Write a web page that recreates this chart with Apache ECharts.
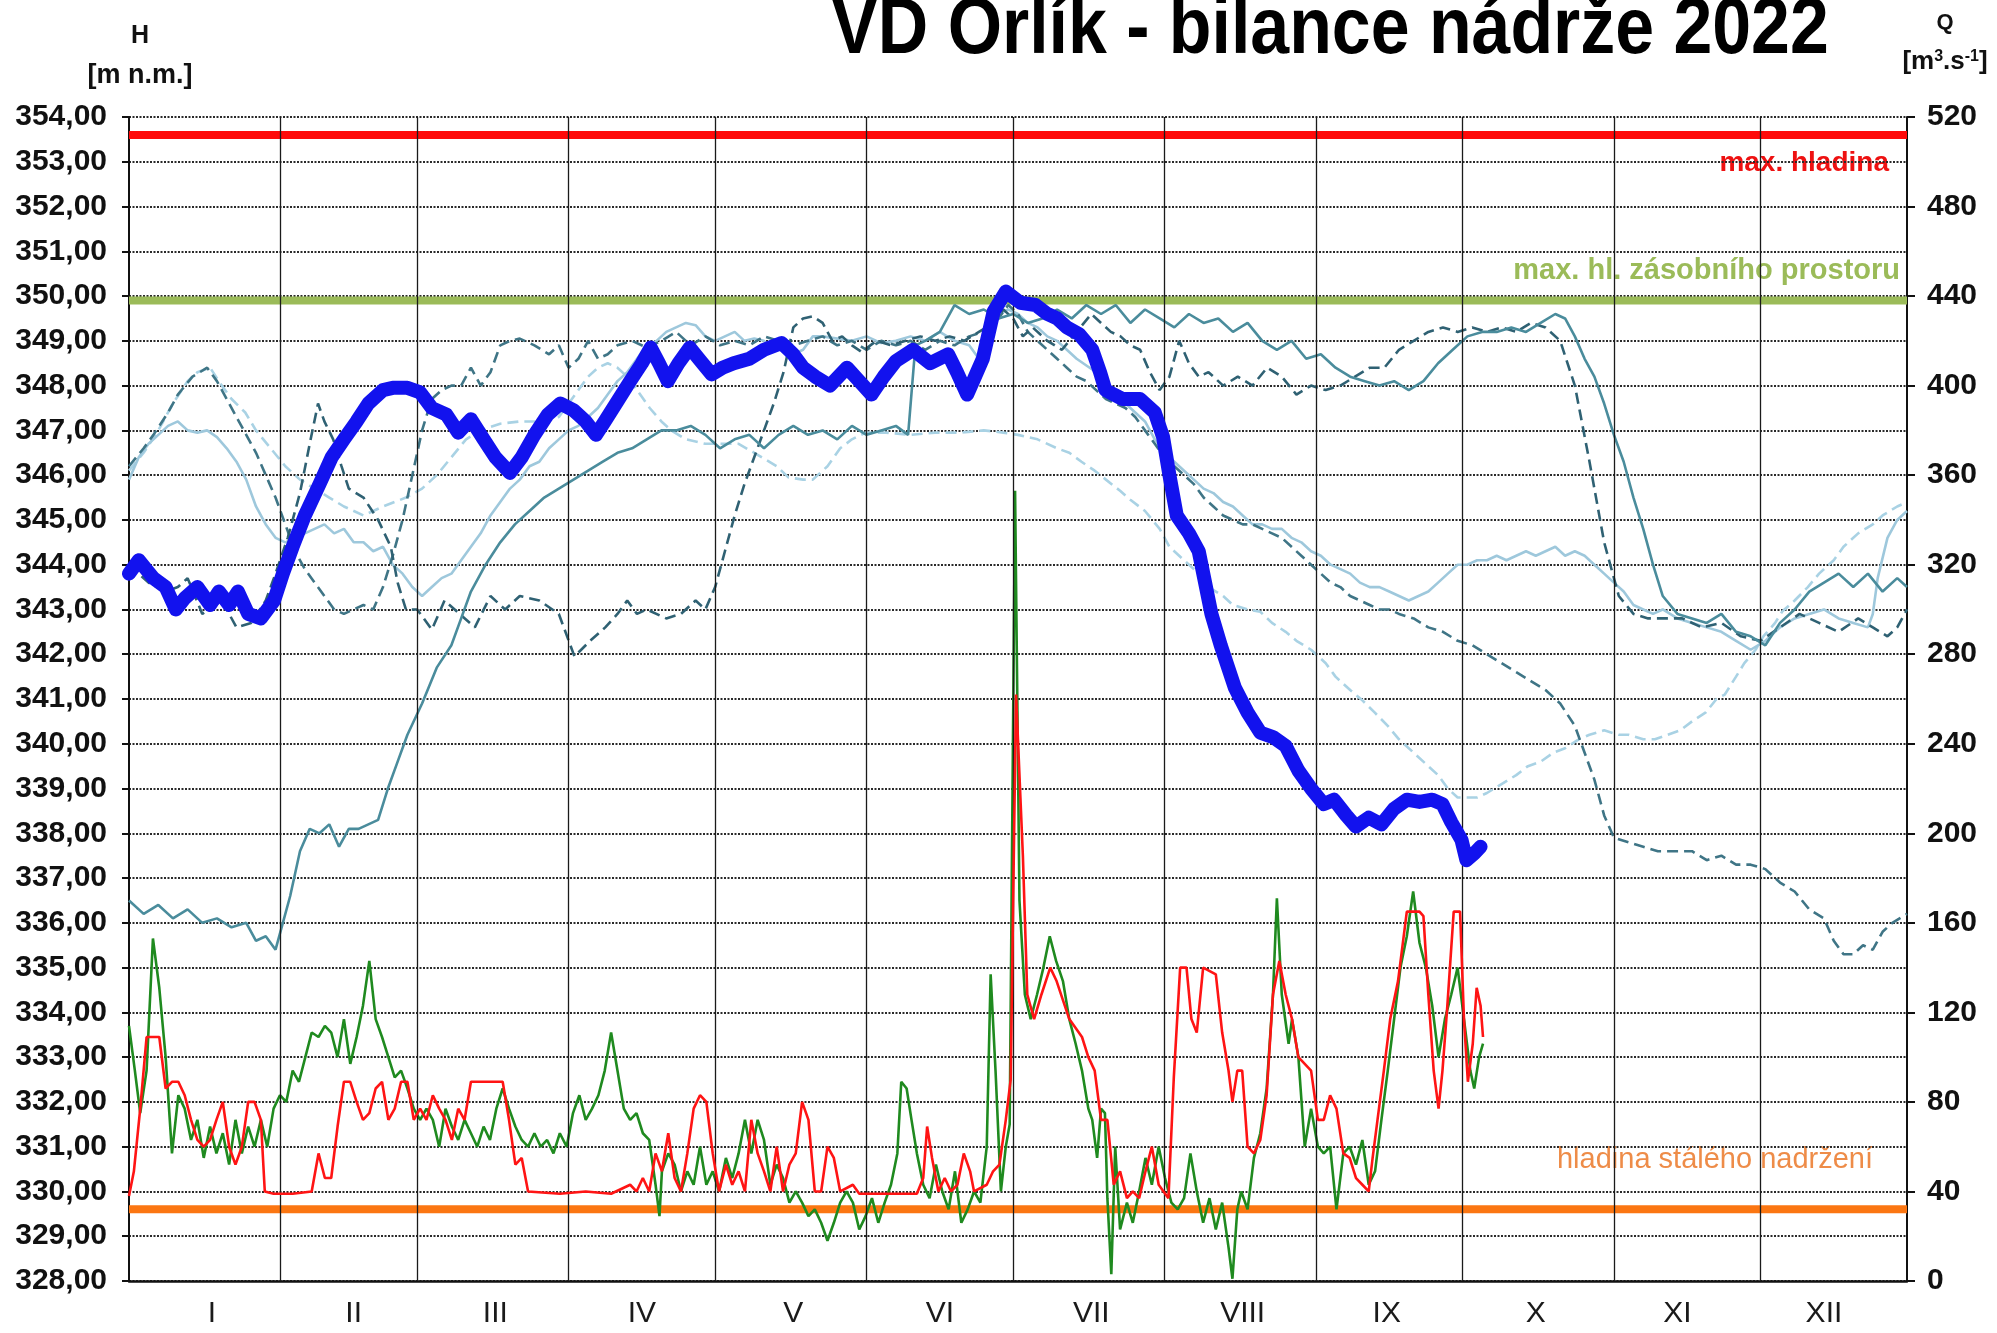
<!DOCTYPE html>
<html><head><meta charset="utf-8">
<script src="https://cdn.jsdelivr.net/npm/echarts@6/dist/echarts.min.js"></script>
<style>html,body{margin:0;padding:0;background:#fff}#c{width:1997px;height:1333px}</style>
</head><body><div id="c"></div><script>
// ---------- data ----------
const title = 'VD Orlík - bilance nádrže 2022';
const months = ['I','II','III','IV','V','VI','VII','VIII','IX','X','XI','XII'];
const monthStarts = [31,59,90,120,151,181,212,243,273,304,334];
const monthLabelPos = [17,46,75,105,136,166,197,228,257.5,288,317,347];
const maxLevel = 353.6;      // max. hladina
const storageLevel = 349.9;  // max. hl. zásobního prostoru
const permLevel = 329.6;     // hladina stálého nadržení

// 2022 level [day, m n.m.]
const h2022 = [[0,343.8],[2,344.1],[5,343.7],[7.5,343.5],[9.6,343.0],[11.4,343.25],[14,343.5],[16.6,343.1],[18.4,343.4],[20.5,343.1],[22.3,343.4],[24.4,342.9],[27,342.8],[29.7,343.2],[31.5,343.8],[33.5,344.4],[36,345.1],[39,345.8],[41.5,346.4],[44,346.8],[46.6,347.2],[49,347.6],[52,347.9],[54,347.95],[57,347.95],[59.6,347.85],[62,347.5],[65,347.35],[67.4,346.95],[70,347.25],[72.6,346.8],[75,346.4],[78,346.05],[80.4,346.4],[83,346.9],[85.7,347.35],[88.3,347.6],[91,347.45],[93.5,347.2],[95.6,346.9],[97.4,347.2],[100,347.65],[102.6,348.1],[105,348.5],[106.8,348.85],[108.5,348.5],[110.3,348.1],[112.5,348.5],[114.8,348.85],[117,348.55],[119.3,348.25],[121.5,348.4],[123.8,348.5],[127,348.6],[130,348.8],[133.6,348.95],[136,348.7],[138,348.4],[140.5,348.2],[143.5,348.0],[147,348.4],[149.5,348.1],[152,347.8],[154.5,348.2],[157,348.55],[160.5,348.8],[164,348.5],[167.7,348.7],[169.5,348.3],[171.6,347.8],[173.2,348.2],[174.8,348.6],[177,349.65],[179.5,350.1],[182.5,349.85],[185.6,349.8],[188,349.6],[190,349.5],[192,349.3],[194.5,349.15],[197.2,348.8],[198.8,348.3],[199.9,347.9],[203.4,347.7],[207,347.7],[210,347.4],[211.7,346.85],[213,346.0],[214.5,345.1],[217,344.7],[219,344.3],[221.6,342.9],[223.5,342.2],[226.4,341.25],[229,340.7],[231.6,340.25],[234.2,340.15],[236.8,339.95],[239.4,339.4],[242,339.0],[244.6,338.65],[246.7,338.75],[249.2,338.4],[251.2,338.15],[253.8,338.35],[256.4,338.2],[259,338.55],[261.6,338.75],[264.2,338.7],[266.8,338.75],[268.9,338.65],[270.7,338.25],[272.8,337.85],[273.8,337.4],[275.4,337.55],[276.7,337.7]];

// historical years (levels)
const histA = [[0,336.5],[3,336.2],[6,336.4],[9,336.1],[12,336.3],[15,336.0],[18,336.1],[21,335.9],[24,336.0],[26,335.6],[28,335.7],[30,335.4],[31.5,336.0],[33,336.6],[35,337.6],[37,338.1],[39,338.0],[41,338.2],[43,337.7],[45,338.1],[47,338.1],[49,338.2],[51,338.3],[53,339.0],[55,339.6],[57,340.2],[60,340.9],[63,341.7],[66,342.2],[68,342.8],[70,343.4],[73,344.0],[76,344.5],[79,344.9],[82,345.2],[85,345.5],[88,345.7],[91,345.9],[94,346.1],[97,346.3],[100,346.5],[103,346.6],[106,346.8],[109,347.0],[112,347.0],[115,347.1],[118,346.9],[121,346.6],[124,346.8],[127,346.9],[130,346.6],[133,346.9],[136,347.1],[139,346.9],[142,347.0],[145,346.8],[148,347.1],[151,346.9],[154,347.0],[157,347.1],[159.5,346.9],[161,348.9],[163,349.0],[166,349.2],[169,349.8],[172,349.6],[175,349.7],[178,349.5],[181,349.6],[184,349.4],[187,349.5],[190,349.7],[193,349.5],[196,349.8],[199,349.6],[202,349.8],[205,349.4],[208,349.7],[211,349.5],[214,349.3],[217,349.6],[220,349.4],[223,349.5],[226,349.2],[229,349.4],[232,349.0],[235,348.8],[238,349.0],[241,348.6],[244,348.7],[247,348.4],[250,348.2],[253,348.1],[256,348.0],[259,348.1],[262,347.9],[265,348.1],[268,348.5],[271,348.8],[274,349.1],[277,349.2],[280,349.2],[283,349.3],[286,349.2],[289,349.4],[292,349.6],[294,349.5],[296,349.1],[298,348.6],[300,348.2],[302,347.6],[304,346.9],[306,346.3],[308,345.5],[310,344.8],[312,344.0],[314,343.3],[317,342.9],[320,342.8],[323,342.7],[326,342.9],[329,342.5],[332,342.4],[335,342.2],[338,342.7],[341,343.0],[344,343.4],[347,343.6],[350,343.8],[353,343.5],[356,343.8],[359,343.4],[362,343.7],[364,343.5]];
const histB = [[0,343.8],[1,343.9],[4,343.6],[7.4,343.4],[10,343.5],[12,343.7],[15,342.9],[19,343.2],[22,342.6],[25,342.7],[28,343.2],[30,343.8],[32.5,344.6],[35,345.6],[37,346.7],[38.7,347.6],[40,347.2],[41.8,346.8],[43.5,346.2],[45,345.7],[48,345.5],[51,345.0],[53.6,344.4],[55,343.6],[56.7,343.0],[59,343.0],[62,342.55],[64.6,343.2],[67.7,342.9],[70.8,342.6],[74,343.3],[77,343.0],[80,343.3],[84,343.2],[88,342.9],[91.2,341.95],[94.4,342.3],[97.5,342.6],[100,342.9],[102,343.2],[104,342.9],[106,343.0],[110,342.8],[113,342.9],[116,343.2],[118,343.0],[120,343.5],[122,344.3],[124,345.1],[126,345.8],[128,346.4],[130,347.0],[132,347.6],[134,348.3],[136,349.3],[138,349.5],[140,349.55],[142,349.4],[144,349.0],[146,349.1],[148,348.9],[150,348.75],[153,349.0],[156,348.9],[159,349.0],[162,349.1],[165,349.0],[168,349.1],[171,349.0],[174,349.2],[177,349.4],[179,349.7],[181,349.5],[183,349.1],[185,349.3],[188,349.0],[191,348.8],[194,349.2],[197,349.6],[199,349.4],[201,349.2],[203,349.1],[205,348.9],[207,348.8],[209,348.3],[211,347.9],[213,348.2],[215,349.0],[217,348.5],[219,348.2],[221,348.3],[224,348.0],[227,348.2],[230,348.0],[233,348.4],[236,348.2],[239,347.8],[242,348.0],[245,347.9],[248,348.0],[251,348.2],[254,348.4],[257,348.4],[260,348.8],[263,349.0],[266,349.2],[269,349.3],[272,349.2],[275,349.3],[278,349.2],[281,349.3],[284,349.2],[287,349.4],[290,349.3],[293,349.0],[296,348.0],[299,346.3],[302,344.5],[305,343.3],[308,342.9],[311,342.8],[314,342.8],[318,342.8],[322,342.6],[326,342.7],[330,342.4],[334,342.3],[338,342.6],[342,342.9],[346,342.7],[350,342.5],[354,342.8],[357,342.6],[360,342.4],[362,342.6],[364,343.0]];
const histC = [[0,345.9],[2,346.4],[4,346.7],[6,346.9],[8,347.1],[10,347.2],[12,347.0],[14,346.95],[16,347.0],[18,346.85],[20,346.6],[22,346.3],[24,345.9],[26,345.3],[28,344.9],[30,344.6],[32,344.5],[34,344.6],[36,344.7],[38,344.8],[40,344.9],[42,344.7],[44,344.8],[46,344.5],[48,344.5],[50,344.3],[52,344.4],[54,344.0],[56,343.8],[58,343.5],[60,343.3],[62,343.5],[64,343.7],[66,343.8],[68,344.1],[70,344.4],[72,344.7],[74,345.1],[76,345.4],[78,345.7],[80,345.9],[82,346.2],[84,346.3],[86,346.6],[88,346.8],[90,347.0],[92,347.1],[94,347.3],[96,347.5],[98,347.8],[100,348.1],[102,348.3],[104,348.6],[106,348.9],[108,349.0],[110,349.2],[112,349.3],[114,349.4],[116,349.35],[118,349.1],[120,349.0],[122,349.1],[124,349.2],[126,349.0],[128,349.05],[130,349.0],[132,348.8],[134,348.9],[136,348.7],[138,348.8],[140,349.1],[142,349.1],[145,349.05],[148,349.0],[151,349.1],[154,348.95],[157,349.0],[160,349.1],[163,349.0],[166,349.2],[169,349.0],[172,348.9],[174,348.6],[176,349.0],[178,349.6],[180,349.7],[182,349.6],[184,349.4],[186,349.3],[188,349.1],[190,349.0],[192,348.8],[194,348.6],[196,348.45],[198,348.3],[200,348.0],[202,347.8],[204,347.6],[206,347.4],[208,347.2],[210,346.8],[212,346.5],[214,346.3],[216,346.1],[218,345.9],[220,345.7],[222,345.6],[224,345.4],[226,345.3],[228,345.1],[230,344.9],[232,344.9],[234,344.8],[236,344.8],[238,344.6],[240,344.5],[242,344.3],[244,344.2],[246,344.0],[248,343.9],[250,343.8],[252,343.6],[254,343.5],[256,343.5],[258,343.4],[260,343.3],[262,343.2],[264,343.3],[266,343.4],[268,343.6],[270,343.8],[272,344.0],[274,344.0],[276,344.1],[278,344.1],[280,344.2],[282,344.1],[284,344.2],[286,344.3],[288,344.2],[290,344.3],[292,344.4],[294,344.2],[296,344.3],[298,344.2],[300,344.0],[302,343.8],[304,343.6],[306,343.4],[308,343.1],[310,343.0],[312,342.9],[314,343.0],[317,342.8],[320,342.7],[323,342.6],[326,342.5],[329,342.3],[332,342.1],[335,342.3],[338,342.6],[341,342.8],[344,342.9],[347,343.0],[350,342.8],[353,342.7],[356,342.6],[357,342.9],[358,343.7],[360,344.6],[362,345.0],[364,345.2]];
const histD = [[0,346.1],[3,346.5],[6,347.0],[9,347.6],[12,348.1],[14,348.3],[16.6,348.4],[19,348.0],[21,347.7],[23.8,347.4],[26,347.0],[29,346.6],[32,346.2],[35,345.9],[38,345.7],[41,345.5],[44,345.3],[48,345.1],[52,345.3],[56.7,345.5],[60,345.7],[63,346.0],[66,346.4],[69,346.8],[72,347.0],[76,347.15],[80,347.2],[85,347.2],[88,347.3],[90,347.6],[92,347.9],[94,348.2],[96,348.4],[98,348.5],[100,348.4],[102,348.2],[104,347.9],[106.6,347.5],[109,347.2],[111,347.0],[114,346.8],[118,346.7],[121,346.7],[124.8,346.7],[128,346.5],[132.6,346.2],[135,345.95],[138,345.9],[140,345.9],[143,346.2],[145.6,346.6],[148,346.8],[150.8,346.95],[155,346.95],[160,346.9],[165,346.95],[170,346.95],[175,347.0],[179,346.95],[182,346.9],[186,346.8],[190,346.6],[192.5,346.5],[195,346.3],[197.7,346.1],[200,345.9],[202.9,345.65],[205,345.45],[208,345.2],[211,344.8],[213,344.4],[216,344.1],[219,343.8],[221,343.5],[224,343.3],[226,343.1],[229,343.0],[231.6,342.95],[234,342.7],[236.8,342.5],[239,342.3],[242,342.1],[245,341.8],[247,341.5],[250,341.2],[252.5,340.97],[255,340.7],[257.7,340.4],[260,340.1],[263,339.8],[266,339.5],[268,339.3],[270,339.0],[272,338.8],[276,338.8],[278,338.9],[281,339.1],[284,339.3],[286.4,339.5],[289,339.6],[291.6,339.8],[294,339.9],[296.8,340.1],[299,340.2],[302,340.3],[305,340.2],[307,340.2],[310,340.1],[312.4,340.1],[315,340.2],[317.6,340.3],[320,340.5],[322.8,340.7],[325,341.0],[326.7,341.1],[329,341.5],[330.7,341.8],[333,342.1],[334.6,342.4],[337,342.7],[338.5,342.96],[341,343.2],[343.7,343.5],[346,343.8],[349,344.1],[351,344.4],[354,344.7],[357,344.9],[359,345.1],[362,345.3],[364,345.4]];
const histE = [[0,346.2],[3,346.6],[5,346.9],[8,347.4],[10,347.8],[13,348.2],[16,348.4],[18,348.1],[20,347.7],[22,347.3],[24,346.9],[26,346.5],[28,346.0],[30,345.5],[32,344.9],[34,344.3],[36,343.9],[38,343.6],[40,343.3],[42,343.0],[44,342.9],[46,343.0],[48,343.1],[50,343.0],[52,343.5],[54,344.2],[56,345.0],[58,346.0],[60,347.0],[62,347.7],[64,347.9],[66,348.0],[68,348.0],[70,348.4],[72,348.0],[74,348.3],[76,348.9],[78,349.0],[80,349.05],[83,348.9],[86,348.7],[88,348.9],[90,348.4],[92,348.6],[94,349.0],[96,348.6],[98,348.7],[100,348.9],[103,349.0],[106,348.85],[109,349.0],[112,349.2],[115,348.9],[118,349.1],[121,348.9],[124,349.0],[127,348.9],[130,349.1],[133,349.0],[136,348.9],[139,349.0],[142,349.1],[145,348.9],[148,349.0],[151,348.8],[154,349.0],[157,348.9],[160,349.0],[163,348.8],[166,349.0],[169,348.9],[172,349.1],[175,349.2],[178,349.5],[180,349.8],[182,349.6],[184,349.2],[186,349.0],[188,348.8],[190,348.6],[192,348.4],[194,348.2],[196,348.1],[198,347.9],[200,347.7],[202,347.6],[204,347.5],[206,347.3],[208,347.0],[210,346.7],[212,346.4],[214,346.2],[216,346.0],[218,345.8],[220,345.5],[222,345.3],[224,345.1],[226,345.0],[228,344.9],[230,344.9],[232,344.8],[234,344.7],[236,344.6],[238,344.4],[240,344.2],[242,344.0],[244,343.8],[246,343.6],[248,343.5],[250,343.3],[252,343.2],[254,343.1],[256,343.0],[258,343.0],[260,342.9],[263,342.8],[266,342.6],[269,342.5],[272,342.3],[275,342.2],[278,342.0],[281,341.8],[284,341.6],[287,341.4],[290,341.2],[293,340.9],[296,340.4],[298,339.8],[300,339.2],[302,338.4],[304,337.9],[307,337.8],[310,337.7],[313,337.6],[317,337.6],[320,337.6],[323,337.4],[326,337.5],[329,337.3],[332,337.3],[335,337.2],[338,336.9],[341,336.7],[344,336.3],[347,336.1],[349,335.6],[351,335.3],[353,335.3],[355,335.5],[357,335.4],[359,335.8],[361,336.0],[364,336.2]];

// flows [day, m3/s]
const inflow = [[0,114],[1.2,94],[2.3,75],[3.6,94],[4.9,153],[6.2,131],[7.5,100],[8.8,57],[10.1,83],[11.4,77],[12.7,63],[14,72],[15.3,55],[16.6,69],[17.9,57],[19.2,66],[20.5,52],[21.8,72],[23.1,57],[24.4,69],[25.7,60],[27,72],[28.3,60],[29.6,77],[30.9,83],[32.2,80],[33.5,94],[34.8,89],[36.1,100],[37.4,111],[38.8,109],[40.1,114],[41.4,111],[42.7,100],[44,117],[45.3,97],[46.6,109],[47.9,123],[49.2,143],[50.5,117],[51.8,109],[53.1,100],[54.4,91],[55.7,94],[57,86],[58.3,77],[59.6,72],[60.9,77],[62.2,72],[63.5,60],[64.8,77],[66.1,69],[67.4,63],[68.7,72],[70,66],[71.3,60],[72.6,69],[73.9,63],[75.2,77],[76.5,86],[77.8,77],[79.1,69],[80.4,63],[81.7,60],[83,66],[84.3,60],[85.6,63],[86.9,57],[88.2,66],[89.6,60],[90.9,75],[92.2,83],[93.5,72],[94.8,77],[96.1,83],[97.4,94],[98.7,111],[100,94],[101.3,77],[102.6,72],[103.9,75],[105.2,66],[106.5,63],[107.8,43],[108.6,29],[109.1,49],[110.4,57],[111.7,52],[113,40],[114.3,49],[115.6,43],[116.9,60],[118.2,43],[119.5,49],[120.8,40],[122.2,55],[123.5,46],[124.8,57],[126.1,72],[127.4,57],[128.7,72],[130,63],[131.3,43],[132.6,52],[133.9,46],[135.2,35],[136.5,40],[137.8,35],[139.1,29],[140.4,32],[141.7,26],[143,18],[144.3,26],[145.6,35],[146.9,40],[148.2,35],[149.5,23],[150.8,29],[152.1,37],[153.4,26],[154.7,35],[156,43],[157.3,57],[158.1,89],[159.2,86],[160.2,72],[161.3,57],[162.6,43],[163.9,37],[165.2,52],[166.5,40],[167.8,32],[169.1,49],[170.4,26],[171.7,32],[173,40],[174.3,35],[175.6,60],[176.4,137],[177.4,94],[178.5,40],[179.5,60],[180.3,70],[181.4,353],[182.3,170],[183.4,128],[184.6,117],[185.9,128],[187.2,140],[188.5,154],[189.8,143],[191.2,134],[192.5,117],[193.8,106],[195.1,94],[196.4,77],[197.2,72],[198.2,55],[199,77],[199.8,75],[200.3,37],[201.1,3],[201.9,60],[202.9,23],[204.3,35],[205.5,26],[206.8,40],[208.1,55],[209.4,43],[210.8,60],[212.1,46],[213.4,35],[214.7,32],[216,37],[217.3,57],[218.6,40],[219.9,26],[221.2,37],[222.5,23],[223.8,35],[225.1,15],[225.9,1],[226.9,32],[227.7,40],[229,32],[230.3,55],[231.6,66],[232.9,86],[234.2,128],[235,171],[236,128],[237.4,106],[238.1,117],[239.4,100],[240.7,60],[242,77],[243.4,60],[244.6,57],[245.9,60],[247.2,32],[248.6,57],[249.9,60],[251.2,52],[252.5,63],[253.8,43],[255.1,49],[256.4,72],[257.7,94],[259,117],[260.3,140],[261.6,154],[262.9,174],[264.2,151],[265.5,140],[266.8,123],[268.1,100],[269.4,117],[270.7,128],[272,140],[273.3,117],[274.6,94],[275.4,86],[276.4,100],[277.2,106]];
const outflow = [[0,38],[1,49],[2.3,77],[3.6,109],[6.2,109],[7.5,86],[8.8,89],[10.1,89],[11.4,83],[12.7,72],[14,63],[15.3,60],[16.6,63],[17.9,72],[19.2,80],[20.5,60],[21.8,52],[23.1,60],[24.4,80],[25.7,80],[27,72],[27.8,40],[29.6,39],[33.5,39],[37.4,40],[38.8,57],[40.1,46],[41.4,46],[42.7,69],[44,89],[45.3,89],[46.6,80],[47.9,72],[49.2,75],[50.5,86],[51.8,89],[53.1,72],[54.4,77],[55.7,89],[57,89],[58.3,72],[59.6,77],[60.9,72],[62.2,83],[63.5,77],[64.8,72],[66.1,63],[67.4,77],[68.7,72],[70,89],[76.5,89],[77.8,72],[79.1,52],[80.4,55],[81.7,40],[88.2,39],[93.5,40],[98.7,39],[102.6,43],[103.9,40],[105.2,46],[106.5,40],[107.8,57],[109.1,49],[110.4,66],[111.7,46],[113,40],[114.3,57],[115.6,77],[116.9,83],[118.2,80],[119.5,57],[120.8,40],[122.2,52],[123.5,43],[124.8,49],[126.1,40],[127.4,72],[128.7,57],[130,49],[131.3,40],[132.6,60],[133.9,40],[135.2,52],[136.5,57],[137.8,80],[139.1,72],[140.4,40],[141.7,40],[143,60],[144.3,55],[145.6,40],[148.2,43],[149.5,39],[161.3,39],[162.6,46],[163.4,69],[164.4,55],[165.7,40],[167,46],[168.3,40],[169.6,43],[170.9,57],[172.2,49],[173,40],[175.6,43],[176.9,49],[178.2,52],[179.5,72],[180.5,90],[181.6,262],[183,190],[183.9,128],[185.3,117],[186.8,128],[188.6,140],[189.9,134],[192.5,117],[195.1,109],[196.4,100],[197.7,94],[199,72],[200.3,72],[201.6,43],[202.9,49],[204.3,37],[205.5,40],[206.8,37],[208.1,49],[209.4,60],[210.8,43],[212.8,37],[213.9,91],[215.2,140],[216.5,140],[217.5,117],[218.6,111],[219.9,140],[222.5,137],[223.8,111],[225.1,94],[225.9,80],[226.9,94],[227.9,94],[229,60],[230.3,57],[231.6,63],[232.9,83],[234.2,128],[235.5,143],[236.8,128],[238.1,117],[239.4,100],[242,94],[243.4,72],[244.6,72],[245.9,83],[247.2,77],[248.6,57],[249.9,55],[251.2,46],[252.5,43],[253.8,40],[254.6,55],[255.6,72],[256.9,94],[258.2,117],[259.8,134],[261.6,165],[264.2,165],[265,163],[266,128],[267.1,94],[268.1,77],[268.9,94],[269.9,123],[271.2,165],[272.5,165],[273.3,117],[274.1,89],[275.1,106],[275.9,131],[276.7,123],[277.2,109]];

// ---------- fonts ----------
function hasFont(name){
  const c=document.createElement('canvas').getContext('2d');
  const t='VD Orlík 354,00 abcdefghijk';
  c.font='100px monospace'; const a=c.measureText(t).width;
  c.font='100px "'+name+'", monospace'; const b=c.measureText(t).width;
  return Math.abs(a-b)>0.5;
}
const NARROW = hasFont('Liberation Sans Narrow') ? '"Liberation Sans Narrow"' : null;
const SANS = '"Liberation Sans", Arial, sans-serif';
const axisFont = NARROW ? {fontFamily:NARROW, fontSize:33} : {fontFamily:SANS, fontSize:30};
const monthFont = NARROW ? {fontFamily:NARROW, fontSize:35} : {fontFamily:SANS, fontSize:30};

// ---------- chart ----------
const chart = echarts.init(document.getElementById('c'), null, {renderer:'canvas'});
const XMAX = 364;
const refLine = (v, color, axis) => ({type:'line', yAxisIndex:axis||0, data:[[0,v],[XMAX,v]], showSymbol:false, silent:true,
  lineStyle:{color:color, width:8}, z:1});
const hist = (d, color, dashed, w) => ({type:'line', data:d, showSymbol:false, silent:true,
  lineStyle:{color:color, width:w||2.6, type: dashed ? [11,6] : 'solid'}, z:3});

const option = {
  animation:false,
  backgroundColor:'#ffffff',
  grid:{left:129, right:90, top:117, bottom:52, containLabel:false},
  xAxis:{type:'value', min:0, max:XMAX,
    axisLine:{show:true, lineStyle:{color:'#111', width:2.5}},
    axisTick:{show:false}, splitLine:{show:false},
    axisLabel:{customValues:monthLabelPos, margin:18, color:'#1a1a1a', fontWeight:'normal', ...monthFont,
      formatter:(v)=>{const i=monthLabelPos.indexOf(v); return i>=0?months[i]:'';}}
  },
  yAxis:[
    {type:'value', min:328, max:354, interval:1, position:'left',
      axisLine:{show:true, lineStyle:{color:'#111', width:2}},
      axisTick:{show:true, length:7, lineStyle:{color:'#111', width:2}},
      splitLine:{show:true, lineStyle:{color:'#2a2a2a', width:2, type:[2,1.5]}},
      axisLabel:{margin:22, color:'#111', fontWeight:'bold', ...axisFont, formatter:(v)=>v.toFixed(2).replace('.',',')}},
    {type:'value', min:0, max:520, interval:40, position:'right',
      axisLine:{show:true, lineStyle:{color:'#111', width:2}},
      axisTick:{show:true, length:8, lineStyle:{color:'#111', width:2}},
      splitLine:{show:false},
      axisLabel:{margin:20, color:'#111', fontWeight:'bold', ...axisFont}}
  ],
  series:[
    refLine(maxLevel,'#ff0a0a'),
    refLine(storageLevel,'#9bbb59'),
    Object.assign(refLine(permLevel,'#fb7612'), {
      markLine:{silent:true, symbol:['none','none'], label:{show:false}, animation:false,
        lineStyle:{color:'#1a1a1a', width:1.3, type:'solid'},
        data: monthStarts.map(v=>({xAxis:v}))}
    }),
    hist(histD,'#a9d2e4',true),
    hist(histC,'#9ec8dc',false),
    hist(histE,'#3f7586',true),
    hist(histB,'#2f6173',true),
    hist(histA,'#4a8c9c',false),
    {type:'line', yAxisIndex:1, data:inflow, showSymbol:false, silent:true, lineStyle:{color:'#1f8a1f', width:2.6}, z:4},
    {type:'line', yAxisIndex:1, data:outflow, showSymbol:false, silent:true, lineStyle:{color:'#ff1414', width:2.6}, z:5},
    {type:'line', data:h2022, showSymbol:false, silent:true, lineStyle:{color:'#1212ee', width:14, cap:'round', join:'round'}, z:6}
  ],
  graphic:[
    {type:'text', x:1330, y:31, scaleX: NARROW?1:0.873, style:{text:title, fill:'#000',
      font: NARROW ? 'bold 84px '+NARROW : 'bold 80px '+SANS, textAlign:'center', textVerticalAlign:'middle'}},
    {type:'text', x:140, y:36, style:{text:'H', fill:'#111', font:'bold 25px '+SANS, textAlign:'center', textVerticalAlign:'middle'}},
    {type:'text', x:140, y:76, style:{text:'[m n.m.]', fill:'#111', font:'bold 27px '+SANS, textAlign:'center', textVerticalAlign:'middle'}},
    {type:'text', x:1945, y:23, style:{text:'Q', fill:'#111', font:'bold 22px '+SANS, textAlign:'center', textVerticalAlign:'middle'}},
    {type:'text', x:1945, y:62, style:{
      text:'{b|[m}{s|3}{b|.s}{s|-1}{b|]}', textAlign:'center', textVerticalAlign:'middle',
      rich:{b:{fill:'#111', font:'bold 26px '+SANS}, s:{fill:'#111', font:'bold 16px '+SANS, verticalAlign:'top', padding:[0,0,10,0]}}}},
    {type:'text', x:1889, y:163, style:{text:'max. hladina', fill:'#ee1111', font:'bold 28px '+SANS, textAlign:'right', textVerticalAlign:'middle'}},
    {type:'text', x:1900, y:271, style:{text:'max. hl. zásobního prostoru', fill:'#9bbb59', font:'bold 29px '+SANS, textAlign:'right', textVerticalAlign:'middle'}},
    {type:'text', x:1873, y:1160, z:-1, style:{text:'hladina stálého nadržení', fill:'rgba(236,128,52,0.9)', font:'29px '+SANS, textAlign:'right', textVerticalAlign:'middle'}}
  ]
};
chart.setOption(option);
</script></body></html>
